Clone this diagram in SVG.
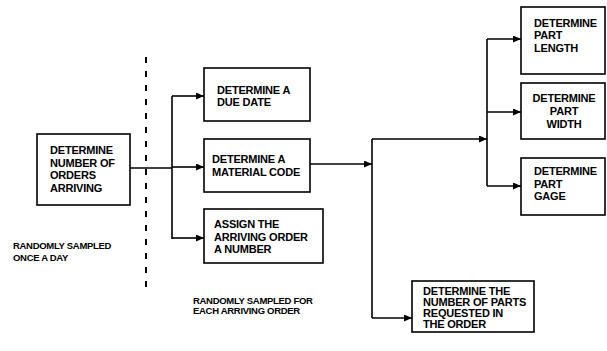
<svg xmlns="http://www.w3.org/2000/svg" width="607" height="351" viewBox="0 0 607 351">
<style>
.box{fill:#fff;stroke:#000;stroke-width:1.6}
.t{font-family:"Liberation Sans",Arial,sans-serif;font-weight:bold;font-size:11px;fill:#000;letter-spacing:-0.2px}
.lbl{font-family:"Liberation Sans",Arial,sans-serif;font-weight:bold;font-size:9.5px;fill:#000;letter-spacing:-0.3px}
.ln{fill:none;stroke:#000;stroke-width:1.6}
.arr{fill:none;stroke:#000;stroke-width:1.6;marker-end:url(#ah)}
.dash{fill:none;stroke:#000;stroke-width:2;stroke-dasharray:6 8}
</style>
<defs>
<marker id="ah" markerUnits="userSpaceOnUse" markerWidth="9" markerHeight="8" refX="8" refY="3.5" orient="auto">
<path d="M0,0 L8,3.5 L0,7 z" fill="#000"/>
</marker>
</defs>
<rect width="607" height="351" fill="#fff"/>
<line class="dash" x1="146" y1="57" x2="146" y2="292"/>
<g id="connectors">
<path class="ln" d="M130,168 H172 M172,96 V239"/>
<path class="arr" d="M172,96 H204"/>
<path class="arr" d="M172,167 H204"/>
<path class="arr" d="M172,238 H204"/>
<path class="arr" d="M310,164 H372"/>
<path class="ln" d="M372,139 V318"/>
<path class="arr" d="M372,139 H487"/>
<path class="ln" d="M487,39 V186"/>
<path class="arr" d="M487,39 H521"/>
<path class="arr" d="M487,112 H521"/>
<path class="arr" d="M487,186 H521"/>
<path class="arr" d="M372,318 H412"/>
</g>
<g id="orders">
<rect class="box" x="37" y="134" width="93" height="71"/>
<text class="t" x="50" y="154">DETERMINE</text>
<text class="t" x="50" y="167">NUMBER OF</text>
<text class="t" x="50" y="179">ORDERS</text>
<text class="t" x="50" y="192">ARRIVING</text>
</g>
<g id="duedate">
<rect class="box" x="204" y="68" width="106" height="53"/>
<text class="t" x="217" y="94">DETERMINE A</text>
<text class="t" x="217" y="106">DUE DATE</text>
</g>
<g id="material">
<rect class="box" x="204" y="139" width="106" height="53"/>
<text class="t" x="212" y="163">DETERMINE A</text>
<text class="t" x="212" y="176">MATERIAL CODE</text>
</g>
<g id="assign">
<rect class="box" x="204" y="209" width="119" height="54"/>
<text class="t" x="214" y="228">ASSIGN THE</text>
<text class="t" x="214" y="241">ARRIVING ORDER</text>
<text class="t" x="214" y="253">A NUMBER</text>
</g>
<g id="length">
<rect class="box" x="521" y="7" width="84" height="67"/>
<text class="t" x="534" y="27">DETERMINE</text>
<text class="t" x="534" y="39">PART</text>
<text class="t" x="534" y="52">LENGTH</text>
</g>
<g id="width">
<rect class="box" x="521" y="83" width="84" height="56"/>
<text class="t" x="564" y="102" text-anchor="middle">DETERMINE</text>
<text class="t" x="564" y="115" text-anchor="middle">PART</text>
<text class="t" x="564" y="128" text-anchor="middle">WIDTH</text>
</g>
<g id="gage">
<rect class="box" x="521" y="158" width="84" height="57"/>
<text class="t" x="534" y="175">DETERMINE</text>
<text class="t" x="534" y="188">PART</text>
<text class="t" x="534" y="200">GAGE</text>
</g>
<g id="parts">
<rect class="box" x="412" y="281" width="122" height="51"/>
<text class="t" x="423" y="295">DETERMINE THE</text>
<text class="t" x="423" y="306">NUMBER OF PARTS</text>
<text class="t" x="423" y="317">REQUESTED IN</text>
<text class="t" x="423" y="328">THE ORDER</text>
</g>
<g id="labels">
<text class="lbl" x="13" y="249">RANDOMLY SAMPLED</text>
<text class="lbl" x="13" y="261">ONCE A DAY</text>
<text class="lbl" x="193" y="304">RANDOMLY SAMPLED FOR</text>
<text class="lbl" x="193" y="314">EACH ARRIVING ORDER</text>
</g>
</svg>
